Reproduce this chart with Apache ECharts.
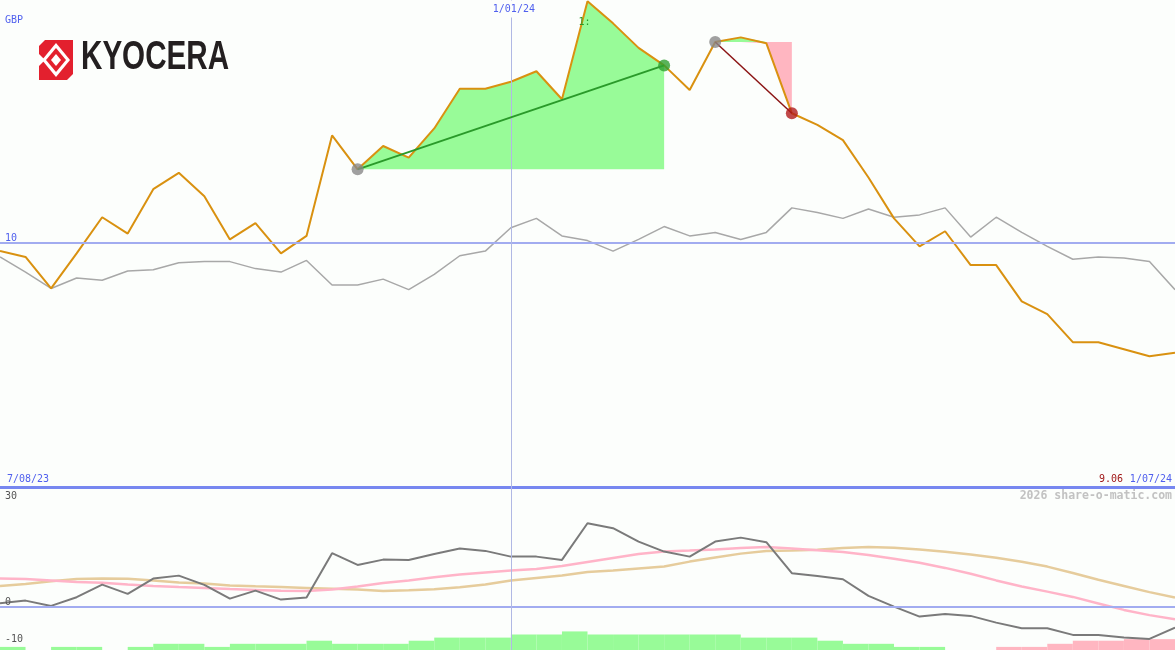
<!DOCTYPE html>
<html><head><meta charset="utf-8">
<script src="https://cdn.jsdelivr.net/npm/echarts@6/dist/echarts.min.js"></script>
<style>html,body{margin:0;padding:0;background:#fcfefc}#c{width:1175px;height:650px}</style>
</head><body><div id="c"></div><script>
const dates = ['7/08/23','14/08/23','21/08/23','28/08/23','4/09/23','11/09/23','18/09/23','25/09/23','2/10/23','9/10/23','16/10/23','23/10/23','30/10/23','6/11/23','13/11/23','20/11/23','27/11/23','4/12/23','11/12/23','18/12/23','1/01/24','8/01/24','15/01/24','22/01/24','29/01/24','5/02/24','12/02/24','19/02/24','26/02/24','4/03/24','11/03/24','18/03/24','25/03/24','1/04/24','8/04/24','15/04/24','22/04/24','29/04/24','6/05/24','13/05/24','20/05/24','27/05/24','3/06/24','10/06/24','17/06/24','24/06/24','1/07/24'];
const price = [9.93,9.88,9.61,9.91,10.22,10.08,10.46,10.60,10.40,10.03, 10.17,9.91,10.06,10.92,10.63,10.83,10.73,10.98,11.32,11.32, 11.38,11.47,11.23,12.07,11.88,11.67,11.52,11.31,11.72,11.76, 11.71,11.11,11.01,10.88,10.56,10.21,9.97,10.10,9.81,9.81, 9.50,9.39,9.15,9.15,9.09,9.03,9.06];
const relative = [9.88,9.75,9.61,9.70,9.68,9.76,9.77,9.83,9.84,9.84, 9.78,9.75,9.85,9.64,9.64,9.69,9.60,9.73,9.89,9.93, 10.13,10.21,10.06,10.02,9.93,10.03,10.14,10.06,10.09,10.03, 10.09,10.30,10.26,10.21,10.29,10.22,10.24,10.30,10.05,10.22, 10.09,9.97,9.86,9.88,9.87,9.84,9.60];
const momentum = [0.99,1.68,0.27,2.59,5.95,3.47,7.55,8.35,5.87,2.22, 4.35,1.95,2.48,14.33,11.21,12.62,12.54,14.14,15.56,14.95, 13.42,13.42,12.54,22.34,21.00,17.43,14.76,13.42,17.43,18.49, 17.27,8.99,8.27,7.39,2.94,0.08,-2.59,-1.87,-2.40,-4.19, -5.68,-5.68,-7.47,-7.47,-8.19,-8.54,-5.52];
const avgFast = [7.55,7.47,7.07,6.67,6.46,5.95,5.60,5.28,5.02,4.75, 4.54,4.32,4.27,4.67,5.47,6.41,7.07,7.93,8.67,9.21, 9.69,10.14,10.94,12.01,13.08,14.14,14.81,15.03,15.35,15.75, 16.01,15.61,15.13,14.68,13.88,12.86,11.80,10.41,8.86,7.07, 5.47,4.08,2.67,0.93,-0.80,-2.19,-3.28];
const avgSlow = [5.60,6.14,6.86,7.42,7.55,7.53,7.07,6.54,6.25,5.74, 5.50,5.28,5.07,4.86,4.62,4.27,4.46,4.72,5.26,6.00, 7.02,7.74,8.41,9.34,9.74,10.27,10.81,12.09,13.21,14.22, 14.89,15.05,15.27,15.75,15.96,15.80,15.32,14.73,14.01,13.13, 12.06,10.76,9.07,7.26,5.60,3.95,2.48];
const histogram = [1,0,1,1,0,1,2,2,1,2, 2,2,3,2,2,2,3,4,4,4, 5,5,6,5,5,5,5,5,5,4, 4,4,3,2,2,1,1,0,0,-1, -1,-2,-3,-3,-3.5,-3.5];
const tradeStart = [14, 28];
const tradeEnd = [26, 31];
const priceLevel = 10;
const lowerTicks = [30, 0, -10];
const markerDate = '1/01/24';
const currency = 'GBP';
const watermark = '2026 share-o-matic.com';
const brand = 'KYOCERA';

const C = {
  bg:'#fcfefc', price:'#d99110', rel:'#a8a8a8', blue:'#5060ee', level:'#a2acf0', sep:'#7787f0', vline:'#b0b8e4',
  gain:'#98fb98', loss:'#ffb6c1', gainLine:'#2a9a2a', lossLine:'#8b1414', gainDot:'#30a030', lossDot:'#b01c1c', startDot:'#888888',
  mom:'#7a7a7a', fast:'#ffb4c8', slow:'#e6cc9c', txt:'#555555'
};
const mono = 'DejaVu Sans Mono';

const series = [];
series.push({type:'line', xAxisIndex:0, yAxisIndex:0, data:relative, symbol:'none', silent:true, z:2,
  lineStyle:{color:C.rel, width:1.5}});
tradeStart.forEach((s, j) => {
  const e = tradeEnd[j], base = price[s];
  const up = price.map((v,i) => (i>=s && i<=e) ? Math.max(v, base) : '-');
  const dn = price.map((v,i) => (i>=s && i<=e) ? Math.min(v, base) : '-');
  [[up, C.gain],[dn, C.loss]].forEach(([d, col]) => series.push({type:'line', xAxisIndex:0, yAxisIndex:0, data:d, symbol:'none', silent:true, z:3,
    lineStyle:{width:0, opacity:0}, areaStyle:{color:col, opacity:1, origin:base}}));
});
series.push({type:'line', xAxisIndex:0, yAxisIndex:0, data:price, symbol:'none', silent:true, z:4,
  lineStyle:{color:C.price, width:2},
  markLine:{silent:true, symbol:'none', label:{show:false}, animation:false,
    data:[{yAxis:priceLevel, lineStyle:{color:C.level, width:2, type:'solid'}},
          {xAxis:markerDate, lineStyle:{color:C.vline, width:1, type:'solid'}}]}});
tradeStart.forEach((s, j) => {
  const e = tradeEnd[j], win = price[e] >= price[s];
  series.push({type:'line', xAxisIndex:0, yAxisIndex:0, data:[[s, price[s]],[e, price[e]]], symbol:'none', silent:true, z:5,
    lineStyle:{color: win ? C.gainLine : C.lossLine, width: win ? 2 : 1.5}});
  series.push({type:'scatter', xAxisIndex:0, yAxisIndex:0, symbolSize:12, silent:true, z:6,
    data:[{value:[s, price[s]], itemStyle:{color:C.startDot}}, {value:[e, price[e]], itemStyle:{color: win ? C.gainDot : C.lossDot}}]});
});
// lower panel
series.push({type:'bar', xAxisIndex:2, yAxisIndex:2, barWidth:'100%', silent:true, z:1,
  data: histogram.map(v => ({value:Math.abs(v), itemStyle:{color: v>=0 ? C.gain : C.loss}}))});
series.push({type:'line', xAxisIndex:1, yAxisIndex:1, data:avgSlow, symbol:'none', silent:true, z:2, lineStyle:{color:C.slow, width:2.5},
  markLine:{silent:true, symbol:'none', label:{show:false}, animation:false,
    data:[{yAxis:0, lineStyle:{color:C.level, width:2, type:'solid'}},
          {xAxis:markerDate, lineStyle:{color:C.vline, width:1, type:'solid'}}]}});
series.push({type:'line', xAxisIndex:1, yAxisIndex:1, data:avgFast, symbol:'none', silent:true, z:3, lineStyle:{color:C.fast, width:2.5}});
series.push({type:'line', xAxisIndex:1, yAxisIndex:1, data:momentum, symbol:'none', silent:true, z:4, lineStyle:{color:C.mom, width:2}});

const hiddenCat = (grid, data, gap, extra) => Object.assign({type:'category', gridIndex:grid, data, boundaryGap:gap,
  axisLabel:{show:false}, axisTick:{show:false}, splitLine:{show:false}, axisLine:{show:false}}, extra||{});
const option = {
  animation:false,
  backgroundColor:C.bg,
  grid:[{left:0, right:0, top:0, height:487}, {left:0, right:0, top:487, bottom:0}],
  xAxis:[
    hiddenCat(0, dates, false, {axisLine:{show:true, onZero:false, lineStyle:{color:C.sep, width:3}}}),
    hiddenCat(1, dates, false),
    hiddenCat(1, dates.slice(1), true)
  ],
  yAxis:[
    {type:'value', gridIndex:0, min:7.91, max:12.08, show:false},
    {type:'value', gridIndex:1, min:-11.5, max:32, show:false},
    {type:'value', gridIndex:1, min:0, max:52.6, show:false}
  ],
  series
};
const chart = echarts.init(document.getElementById('c'));
chart.setOption(option);

const P = (g, i, v) => chart.convertToPixel({xAxisIndex:g, yAxisIndex:g}, [i, v]);
const txt = (text, x, y, color, opts) => Object.assign({type:'text', x, y, z:100,
  style:Object.assign({text, fill:color, font:'10px "'+mono+'"', textVerticalAlign:'middle'}, (opts||{}).style||{})}, (opts||{}).el||{});
const g = [];
g.push(txt(currency, 5, 20, C.blue));
const yLevel = P(0, 0, priceLevel)[1];
g.push(txt(String(priceLevel), 5, yLevel - 5, C.blue));
const xMark = P(0, dates.indexOf(markerDate), priceLevel)[0];
g.push(txt(markerDate, xMark + 3, 9, C.blue, {style:{textAlign:'center', backgroundColor:C.bg, padding:[2,3,5,3]}}));
g.push(txt(dates[0], 7, 479, C.blue));
g.push(txt(dates[dates.length-1], 1172, 479, C.blue, {style:{textAlign:'right'}}));
g.push(txt(price[price.length-1].toFixed(2), 1123, 479, '#a01818', {style:{textAlign:'right'}}));
g.push(txt(watermark, 1172, 496, '#c2c2c2', {style:{textAlign:'right', font:'bold 11.5px "'+mono+'"'}}));
const iMax = price.indexOf(Math.max(...price));
const pMax = P(0, iMax, price[iMax]);
g.push(txt('1:', pMax[0] - 9, pMax[1] + 21, C.gainLine));
lowerTicks.forEach(t => {
  const y = P(1, 0, t)[1];
  g.push(txt(String(t), 5, Math.min(Math.max(y - 5, 496), 642), C.txt));
});
// logo
const R = '#e3202e', W = '#ffffff';
g.push({type:'group', x:39, y:40, z:100, children:[
  {type:'polygon', shape:{points:[[6,0],[34,0],[34,34],[28,40],[0,40],[0,6]]}, style:{fill:R}},
  {type:'polygon', shape:{points:[[17,3],[31,20],[17,37],[3,20]]}, style:{fill:W}},
  {type:'polygon', shape:{points:[[17,8],[27,20],[17,32],[7,20]]}, style:{fill:R}},
  {type:'polygon', shape:{points:[[0,14],[6,20],[0,26]]}, style:{fill:W}},
  {type:'polygon', shape:{points:[[12,20],[17,14],[22,20],[17,26]]}, style:{fill:W}}
]});
g.push({type:'text', x:81, y:58, z:100, scaleX:0.74, originX:0, originY:0,
  style:{text:brand, fill:'#231f20', font:'bold 40px "Liberation Sans"', textVerticalAlign:'middle'}});
chart.setOption({graphic:g});
</script></body></html>
